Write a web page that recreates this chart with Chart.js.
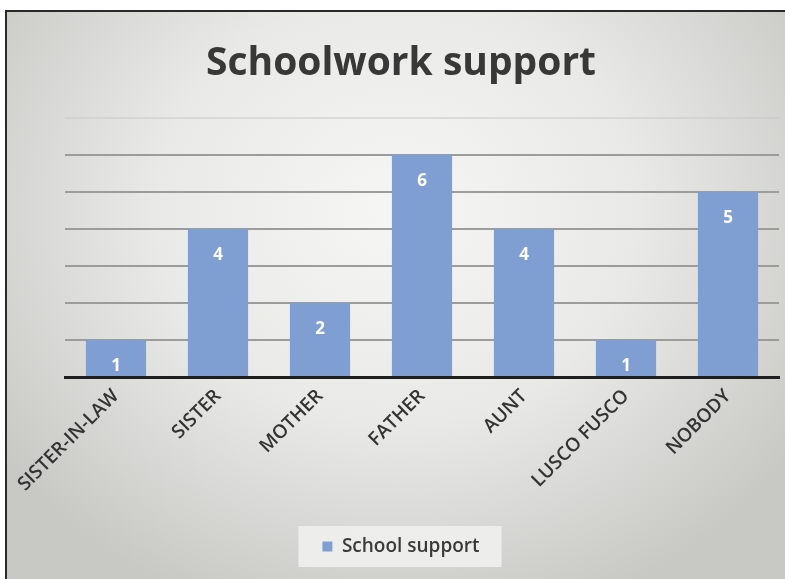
<!DOCTYPE html>
<html>
<head>
<meta charset="utf-8">
<script src="https://cdn.jsdelivr.net/npm/chart.js@4/dist/chart.umd.min.js"></script>
<style>
  html, body { margin: 0; padding: 0; width: 785px; height: 579px; overflow: hidden; background: #fff; }
  #frame { position: absolute; left: 5px; top: 10px; width: 780px; height: 569px;
    border-left: 2px solid #2a2a2a; border-top: 2px solid #2a2a2a; box-sizing: border-box;
    background: radial-gradient(ellipse 62% 75% at 50% 35%, #f6f6f4 0%, #e9e9e7 50%, #d2d3cf 85%, #c8c9c5 100%); }
  #wrap { position: absolute; left: 0; top: 0; width: 785px; height: 579px; }
</style>
</head>
<body>
<div id="frame"></div>
<div id="wrap"><canvas id="c" width="785" height="579"></canvas></div>
<script>
const categories = ["SISTER-IN-LAW", "SISTER", "MOTHER", "FATHER", "AUNT", "LUSCO FUSCO", "NOBODY"];
const schoolSupport = [1, 4, 2, 6, 4, 1, 5];
const seriesName = "School support";
const chartTitle = "Schoolwork support";

const FONT = "'Open Sans', 'Noto Sans', sans-serif";

const valueLabels = {
  id: 'valueLabels',
  afterDatasetsDraw(chart) {
    const ctx = chart.ctx;
    const meta = chart.getDatasetMeta(0);
    ctx.save();
    ctx.fillStyle = '#ffffff';
    ctx.font = 'bold 17px ' + FONT;
    ctx.textAlign = 'center';
    ctx.textBaseline = 'middle';
    meta.data.forEach((bar, i) => {
      ctx.fillText(String(chart.data.datasets[0].data[i]), bar.x, bar.y + 26);
    });
    ctx.restore();
  }
};

const legendBg = {
  id: 'legendBg',
  beforeDraw(chart) {
    const l = chart.legend;
    if (!l || !l.legendHitBoxes || !l.legendHitBoxes.length) return;
    const hb = l.legendHitBoxes[0];
    const ctx = chart.ctx;
    ctx.save();
    ctx.fillStyle = 'rgba(240,240,238,0.9)';
    ctx.fillRect(hb.left - 24, hb.top - 11, hb.width + 46, hb.height + 22);
    ctx.restore();
  }
};

new Chart(document.getElementById('c'), {
  type: 'bar',
  data: {
    labels: categories,
    datasets: [{
      label: seriesName,
      data: schoolSupport,
      backgroundColor: '#7f9fd3',
      borderWidth: 0,
      categoryPercentage: 0.59,
      barPercentage: 1.0
    }]
  },
  options: {
    responsive: false,
    animation: false,
    layout: { padding: { left: 23, right: 6, top: 0, bottom: 13 } },
    plugins: {
      title: {
        display: true,
        text: chartTitle,
        color: '#383838',
        font: { family: FONT, size: 39, weight: 'bold' },
        padding: { top: 40, bottom: 31 }
      },
      legend: {
        display: true,
        position: 'bottom',
        labels: {
          color: '#3a3a3a',
          font: { family: FONT, size: 19, weight: '600' },
          boxWidth: 10,
          boxHeight: 10,
          padding: 10
        }
      },
      tooltip: { enabled: false }
    },
    scales: {
      x: {
        grid: { display: false },
        border: { display: true, color: '#1e1e1e', width: 3 },
        ticks: {
          color: '#333333',
          font: { family: FONT, size: 19, weight: '600' },
          minRotation: 45,
          maxRotation: 45,
          padding: 0
        },
        afterFit(scale) { scale.height = 150; }
      },
      y: {
        min: 0,
        max: 7,
        ticks: { display: false, stepSize: 1 },
        border: { display: false },
        grid: {
          color: (ctx) => ctx.tick && ctx.tick.value === 7 ? 'rgba(200,200,200,0.5)' : '#9c9c9a',
          lineWidth: 2,
          drawTicks: false
        },
        afterFit(scale) { scale.width = 42; }
      }
    }
  },
  plugins: [valueLabels, legendBg]
});
</script>
</body>
</html>
